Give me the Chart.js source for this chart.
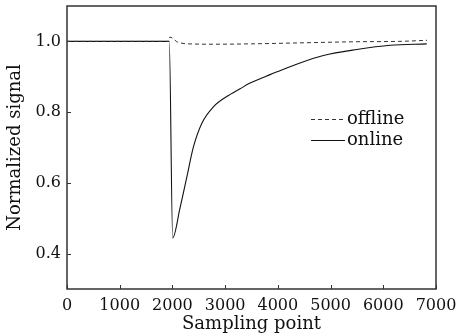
<!DOCTYPE html>
<html>
<head>
<meta charset="utf-8">
<script src="https://cdn.jsdelivr.net/npm/chart.js@4/dist/chart.umd.min.js"></script>
<style>
  html, body { margin: 0; padding: 0; background: #fff; }
  #wrap { width: 458px; height: 335px; }
</style>
</head>
<body>
<div id="wrap"><canvas id="myChart"></canvas></div>
<script>
// sampling points and normalized signal for the two channels
var offlineX = [0, 500, 1000, 1500, 1930, 1950, 2100, 2300, 2800, 3500, 4500, 5500, 6300, 6830];
var offlineY = [1.0, 1.0, 1.0, 1.0, 1.0, 1.012, 0.998, 0.993, 0.992, 0.993, 0.996, 0.999, 1.0, 1.003];

var onlineX = [0, 500, 1000, 1500, 1940, 2005, 2144, 2271, 2397, 2556, 2777, 3030, 3283, 3473, 3852, 4231, 4421, 4864, 5497, 6129, 6825];
var onlineY = [1.0, 1.0, 1.0, 1.0, 1.0, 0.444, 0.529, 0.615, 0.701, 0.768, 0.815, 0.844, 0.866, 0.882, 0.906, 0.928, 0.939, 0.96, 0.977, 0.989, 0.993];

var seriesNames = ['offline', 'online'];
var xTicks = [0, 1000, 2000, 3000, 4000, 5000, 6000, 7000];
var yTicks = [0.4, 0.6, 0.8, 1.0];

var serif = "'DejaVu Serif', serif";
var ink = '#333';

function toPoints(xs, ys) {
    var pts = [];
    for (var i = 0; i < xs.length; i++) {
        pts.push({ x: xs[i], y: ys[i] });
    }
    return pts;
}

// box around the plot (taken from the scale ends) + short ticks pointing inwards
var frameTicks = {
    id: 'frameTicks',
    afterDraw: function (chart) {
        var ctx = chart.ctx;
        var xs = chart.scales.x, ys = chart.scales.y;
        var left = xs.getPixelForValue(xs.min);
        var right = xs.getPixelForValue(xs.max);
        var top = ys.getPixelForValue(ys.max);
        var bottom = ys.getPixelForValue(ys.min);
        ctx.save();
        ctx.strokeStyle = ink;
        ctx.lineWidth = 1.5;
        ctx.strokeRect(left, top, right - left, bottom - top);
        ctx.lineWidth = 1;
        ctx.beginPath();
        xTicks.forEach(function (v) {
            var px = Math.round(xs.getPixelForValue(v)) + 0.5;
            ctx.moveTo(px, bottom);
            ctx.lineTo(px, bottom - 4);
        });
        yTicks.forEach(function (v) {
            var py = Math.round(ys.getPixelForValue(v)) + 0.5;
            ctx.moveTo(left, py);
            ctx.lineTo(left + 4, py);
        });
        ctx.stroke();
        ctx.restore();
    }
};

// legend sitting inside the plot, right of centre
var innerLegend = {
    id: 'innerLegend',
    afterDraw: function (chart) {
        var ctx = chart.ctx;
        var rows = [119, 140];
        ctx.save();
        ctx.font = '18px ' + serif;
        ctx.textBaseline = 'middle';
        ctx.fillStyle = '#111';
        chart.data.datasets.forEach(function (ds, i) {
            ctx.strokeStyle = ds.borderColor;
            ctx.lineWidth = 1;
            ctx.setLineDash(ds.borderDash || []);
            ctx.beginPath();
            ctx.moveTo(311, rows[i] + 0.5);
            ctx.lineTo(345, rows[i] + 0.5);
            ctx.stroke();
            ctx.setLineDash([]);
            ctx.fillText(ds.label, 347, rows[i]);
        });
        ctx.restore();
    }
};

new Chart(document.getElementById('myChart'), {
    type: 'line',
    data: {
        datasets: [{
            label: seriesNames[0],
            data: toPoints(offlineX, offlineY),
            borderColor: '#333',
            borderWidth: 1,
            borderDash: [4, 3],
            pointRadius: 0,
            cubicInterpolationMode: 'monotone',
            fill: false
        }, {
            label: seriesNames[1],
            data: toPoints(onlineX, onlineY),
            borderColor: '#111',
            borderWidth: 1.1,
            pointRadius: 0,
            cubicInterpolationMode: 'monotone',
            fill: false
        }]
    },
    options: {
        responsive: true,
        maintainAspectRatio: false,
        animation: false,
        layout: { padding: { top: 6, right: 22, left: 0, bottom: 0 } },
        plugins: {
            legend: { display: false },
            tooltip: { enabled: false }
        },
        scales: {
            x: {
                type: 'linear',
                min: 0,
                max: 7000,
                afterFit: function (s) {
                    s.height = 46;
                    s.paddingLeft = 0;
                    s.paddingRight = 0;
                },
                afterBuildTicks: function (s) {
                    s.ticks = xTicks.map(function (v) { return { value: v }; });
                },
                grid: { display: false, drawTicks: false },
                border: { display: false },
                ticks: {
                    color: '#111',
                    padding: 7,
                    maxRotation: 0,
                    font: { family: serif, size: 16 },
                    callback: function (v) { return String(v); }
                },
                title: {
                    display: true,
                    text: 'Sampling point',
                    color: '#111',
                    padding: { top: 0, bottom: 0 },
                    font: { family: serif, size: 18 }
                }
            },
            y: {
                min: 0.3,
                max: 1.1,
                afterFit: function (s) {
                    s.width = 67;
                    s.paddingTop = 0;
                    s.paddingBottom = 0;
                },
                afterBuildTicks: function (s) {
                    s.ticks = yTicks.map(function (v) { return { value: v }; });
                },
                grid: { display: false, drawTicks: false },
                border: { display: false },
                ticks: {
                    color: '#111',
                    padding: 6,
                    font: { family: serif, size: 16 },
                    callback: function (v) { return v.toFixed(1); }
                },
                title: {
                    display: true,
                    text: 'Normalized signal',
                    color: '#111',
                    padding: { top: 5, bottom: 0 },
                    font: { family: serif, size: 18 }
                }
            }
        }
    },
    plugins: [frameTicks, innerLegend]
});
</script>
</body>
</html>
